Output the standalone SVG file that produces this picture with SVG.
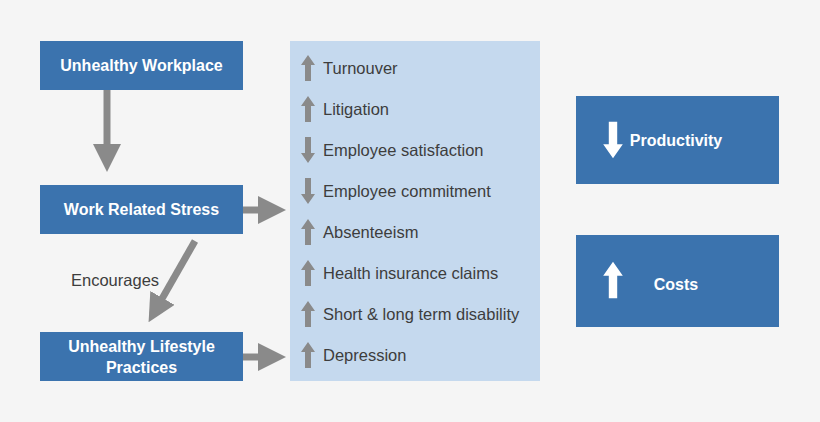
<svg xmlns="http://www.w3.org/2000/svg" width="820" height="422" viewBox="0 0 820 422">
<style>
.box{fill:#3b73ae}
.bt{fill:#fff;font-family:"Liberation Sans Narrow","Liberation Sans",sans-serif;font-size:16px;font-weight:bold;text-anchor:middle}
.it{fill:#3d3d3d;font-family:"Liberation Sans Narrow","Liberation Sans",sans-serif;font-size:16.5px}
.ga{fill:#8a8a8a}
.con{stroke:#8a8a8a;stroke-width:7;fill:none}
</style>
<defs>
<marker id="ah" markerWidth="4" markerHeight="4" refX="1" refY="2" orient="auto" markerUnits="strokeWidth"><path d="M0,0 L4,2 L0,4 Z" fill="#8a8a8a"/></marker>
<path id="up" d="M-3,13 L-3,-3 L-7,-3 L0,-13 L7,-3 L3,-3 L3,13 Z"/>
</defs>
<rect width="820" height="422" fill="#f5f5f5"/>
<g id="connectors">
<line class="con" x1="107" y1="90" x2="107" y2="151" marker-end="url(#ah)"/>
<line class="con" x1="243" y1="210" x2="265" y2="210" marker-end="url(#ah)"/>
<line class="con" x1="243" y1="357" x2="265" y2="357" marker-end="url(#ah)"/>
<line class="con" x1="195" y1="241" x2="159" y2="304" marker-end="url(#ah)"/>
<text x="71" y="286" class="it">Encourages</text>
</g>
<g id="workplace"><rect class="box" x="40" y="41" width="203" height="49"/><text class="bt" x="141.5" y="71">Unhealthy Workplace</text></g>
<g id="stress"><rect class="box" x="40" y="185" width="203" height="49"/><text class="bt" x="141.5" y="215">Work Related Stress</text></g>
<g id="lifestyle"><rect class="box" x="40" y="332" width="203" height="49"/><text class="bt" x="141.5" y="352">Unhealthy Lifestyle</text><text class="bt" x="141.5" y="373">Practices</text></g>
<g id="effects">
<rect x="290" y="41" width="250" height="340" fill="#c5d9ee"/>
<use href="#up" class="ga" transform="translate(308,68)"/><text class="it" x="323" y="74">Turnouver</text>
<use href="#up" class="ga" transform="translate(308,109)"/><text class="it" x="323" y="115">Litigation</text>
<use href="#up" class="ga" transform="translate(308,150) rotate(180)"/><text class="it" x="323" y="156">Employee satisfaction</text>
<use href="#up" class="ga" transform="translate(308,191) rotate(180)"/><text class="it" x="323" y="197">Employee commitment</text>
<use href="#up" class="ga" transform="translate(308,232)"/><text class="it" x="323" y="238">Absenteeism</text>
<use href="#up" class="ga" transform="translate(308,273)"/><text class="it" x="323" y="279">Health insurance claims</text>
<use href="#up" class="ga" transform="translate(308,314)"/><text class="it" x="323" y="320">Short &amp; long term disability</text>
<use href="#up" class="ga" transform="translate(308,355)"/><text class="it" x="323" y="361">Depression</text>
</g>
<g id="productivity"><rect class="box" x="576" y="96" width="203" height="88"/><use href="#up" fill="#fff" transform="translate(613,140) rotate(180) scale(1.4)"/><text class="bt" x="676" y="146">Productivity</text></g>
<g id="costs"><rect class="box" x="576" y="235" width="203" height="92"/><use href="#up" fill="#fff" transform="translate(613,280) scale(1.4)"/><text class="bt" x="676" y="290">Costs</text></g>
</svg>
